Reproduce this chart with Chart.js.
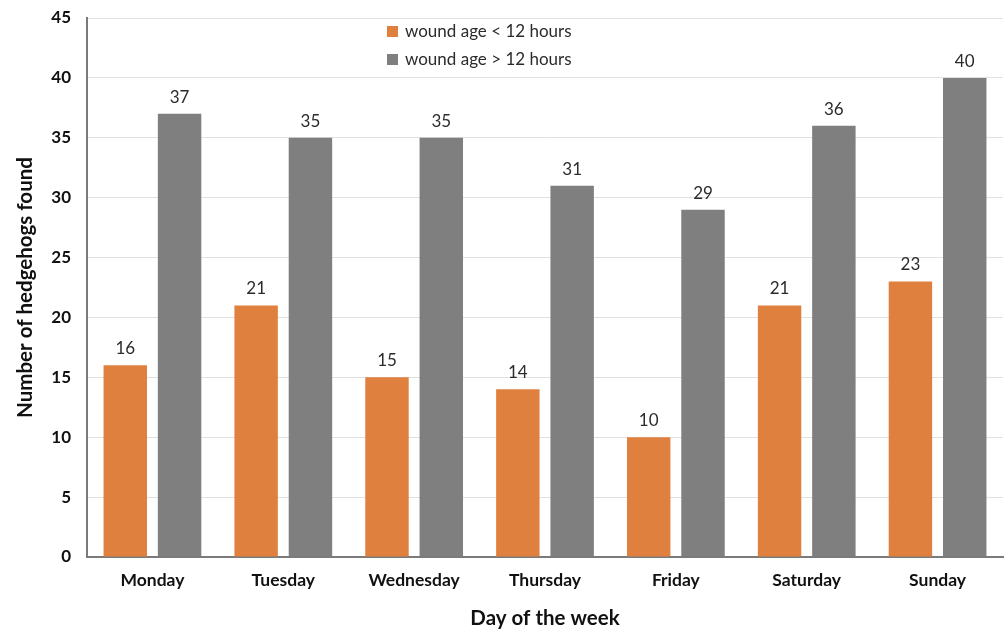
<!DOCTYPE html>
<html>
<head>
<meta charset="utf-8">
<script src="https://cdn.jsdelivr.net/npm/chart.js@4/dist/chart.umd.min.js"></script>
<style>
  html, body { margin: 0; padding: 0; background: #ffffff; }
  #wrap { width: 1004px; height: 635px; }
</style>
</head>
<body>
<div id="wrap"><canvas id="c" width="1004" height="635"></canvas></div>
<script>
const days = ['Monday', 'Tuesday', 'Wednesday', 'Thursday', 'Friday', 'Saturday', 'Sunday'];
const under12 = [16, 21, 15, 14, 10, 21, 23];
const over12 = [37, 35, 35, 31, 29, 36, 40];
const seriesNames = ['wound age < 12 hours', 'wound age > 12 hours'];
const yTicks = [0, 5, 10, 15, 20, 25, 30, 35, 40, 45];

const FONT = 'Lato, "Liberation Sans", sans-serif';
const ORANGE = '#e0803f';
const GREY = '#7f7f7f';

// Value labels above each bar
const valueLabels = {
  id: 'valueLabels',
  afterDatasetsDraw(chart) {
    const ctx = chart.ctx;
    ctx.save();
    ctx.font = '17px ' + FONT;
    ctx.fillStyle = '#2b2b2b';
    ctx.textAlign = 'center';
    ctx.textBaseline = 'bottom';
    chart.data.datasets.forEach((ds, i) => {
      chart.getDatasetMeta(i).data.forEach((bar, j) => {
        ctx.fillText(String(ds.data[j]), bar.x, bar.y - 8);
      });
    });
    ctx.restore();
  }
};

// Stacked legend drawn inside the plot
const boxLegend = {
  id: 'boxLegend',
  afterDraw(chart) {
    const ctx = chart.ctx;
    ctx.save();
    ctx.font = '17px ' + FONT;
    ctx.textBaseline = 'middle';
    chart.data.datasets.forEach((ds, i) => {
      const y = 32 + i * 28;
      ctx.fillStyle = ds.backgroundColor;
      ctx.fillRect(387, y - 6, 11, 11);
      ctx.fillStyle = '#2b2b2b';
      ctx.fillText(ds.label, 405, y);
    });
    ctx.restore();
  }
};

new Chart(document.getElementById('c'), {
  type: 'bar',
  data: {
    labels: days,
    datasets: [
      { label: seriesNames[0], data: under12, backgroundColor: ORANGE },
      { label: seriesNames[1], data: over12, backgroundColor: GREY }
    ]
  },
  options: {
    responsive: false,
    animation: false,
    devicePixelRatio: 1,
    layout: { padding: { top: 18, right: 1, left: 0, bottom: 0 } },
    datasets: { bar: { categoryPercentage: 0.83, barPercentage: 0.8 } },
    plugins: { legend: { display: false }, tooltip: { enabled: false } },
    scales: {
      x: {
        grid: { display: false, drawTicks: false },
        border: { color: '#7a7a7a', width: 2 },
        ticks: { color: '#111111', font: { family: FONT, size: 17.5, weight: 'bold' }, padding: 13 },
        title: { display: true, text: 'Day of the week', color: '#111111',
                 font: { family: FONT, size: 20.5, weight: 'bold' }, padding: { top: 22 } },
        afterFit(scale) { scale.height = 78; scale.paddingLeft = 0; scale.paddingRight = 0; }
      },
      y: {
        min: 0, max: 45,
        afterBuildTicks(scale) { scale.ticks = yTicks.map(v => ({ value: v })); },
        grid: { color: '#e0e0e0', lineWidth: 1, drawTicks: false },
        border: { color: '#7a7a7a', width: 2 },
        ticks: { color: '#111111', font: { family: FONT, size: 17, weight: 'bold' }, padding: 16 },
        title: { display: true, text: 'Number of hedgehogs found', color: '#111111',
                 font: { family: FONT, size: 20.5, weight: 'bold' }, padding: { top: 13, bottom: 0 } },
        afterFit(scale) { scale.width = 87; scale.paddingTop = 0; scale.paddingBottom = 0; }
      }
    }
  },
  plugins: [valueLabels, boxLegend]
});
</script>
</body>
</html>
